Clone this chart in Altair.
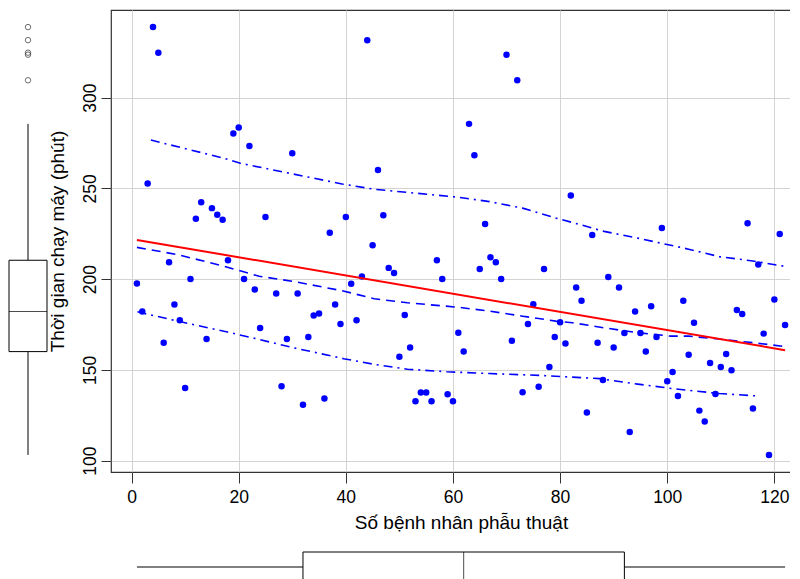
import altair as alt
import pandas as pd

# ---- data ----
patient_no = list(range(1, 26)) + list(range(27, 123))
run_minutes = [
    197.6, 182.2, 252.6, 338.8, 324.7, 165.0, 209.3, 186.0, 177.3, 140.0,
    200.1, 233.2, 242.4, 167.0, 239.1, 235.4, 232.7, 210.4, 280.2, 283.5,
    200.1, 273.3, 194.3, 173.1, 234.2,
    192.1, 141.0, 167.0, 269.3, 192.1, 130.8, 168.1, 180.0, 181.1, 134.3,
    225.6, 186.0, 175.3, 234.2, 197.4, 177.3, 201.4, 331.6, 218.6, 260.1,
    235.2, 206.2, 203.4, 157.3, 180.2, 162.3, 132.8, 137.6, 137.6, 132.8,
    210.4, 200.1, 136.6, 132.8, 170.5, 160.1, 285.5, 268.2, 205.6, 230.3,
    212.0, 209.3, 200.1, 323.6, 166.1, 309.5, 137.7, 175.3, 186.2, 140.7,
    205.6, 151.6, 168.1, 176.3, 164.5, 246.0, 195.4, 188.1, 126.6, 224.3,
    165.0, 144.5, 201.2, 162.3, 195.4, 170.3, 115.8, 182.2, 170.3, 160.1,
    185.1, 168.1, 228.1, 143.8, 148.9, 135.7, 188.1, 158.4, 176.0, 127.6,
    121.6, 153.8, 136.8, 151.6, 158.8, 149.8, 183.0, 180.8, 230.8, 128.8,
    208.0, 170.0, 103.2, 188.8, 224.8, 174.8,
]

smooth_x = [1, 8.6, 17.3, 23.8, 30.1, 39.5, 45.3, 51.5, 61, 66.8, 73, 79.2,
            82.3, 88.2, 94.5, 100.7, 104, 109.7, 116, 122]
smooth_y = [217.5, 213.5, 207.1, 201.6, 198.8, 193.5, 189.2, 187.0, 184.5,
            182.4, 179.6, 176.9, 176.0, 173.2, 170.5, 168.6, 168.6, 167.0,
            165.0, 162.9]

upper_x = [3.6, 17.3, 20.3, 39.3, 45.3, 61, 66.8, 73, 79.2, 82.3, 88.2, 94.5,
           104, 109.7, 116, 122]
upper_y = [276.6, 266.5, 263.8, 252.4, 249.5, 245.1, 242.7, 239.1, 233.6,
           231.2, 226.3, 222.6, 216.5, 212.4, 210.0, 207.0]

lower_x = [1.1, 8.6, 17.9, 23.8, 30.1, 39.6, 45.3, 51.5, 58.8, 66.8, 76.2,
           87.4, 94.5, 101.1, 109.7, 116.7]
lower_y = [182.0, 176.9, 170.9, 166.8, 162.3, 156.2, 153.1, 150.4, 149.0,
           148.0, 147.0, 145.2, 142.2, 139.7, 137.0, 135.7]

x_ticks = [0, 20, 40, 60, 80, 100, 120]
y_ticks = [100, 150, 200, 250, 300]
x_title = "Số bệnh nhân phẫu thuật"
y_title = "Thời gian chạy máy (phút)"

df = pd.DataFrame({"x": patient_no, "y": run_minutes})
df_smooth = pd.DataFrame({"x": smooth_x, "y": smooth_y})
df_upper = pd.DataFrame({"x": upper_x, "y": upper_y})
df_lower = pd.DataFrame({"x": lower_x, "y": lower_y})

FONT = "Liberation Sans"
W, H = 700, 462
xs = alt.Scale(domain=[-3.84, 126.84], nice=False, zero=False)
ys = alt.Scale(domain=[93.8, 348.2], nice=False, zero=False)

x_axis = alt.Axis(values=x_ticks, title=x_title, grid=True, gridColor="#D3D3D3",
                  gridWidth=1, domain=False, tickSize=11, tickColor="#333333",
                  labelPadding=5, labelFontSize=17.5, titleFontSize=19,
                  titlePadding=8, labelFont=FONT, titleFont=FONT,
                  labelColor="black", titleColor="black", titleFontWeight="normal")
y_axis = alt.Axis(values=y_ticks, title=y_title, grid=True, gridColor="#D3D3D3",
                  gridWidth=1, domain=False, tickSize=10, tickColor="#333333",
                  labelPadding=1.5, labelAngle=-90, labelFontSize=17.5,
                  titleFontSize=19, titlePadding=14.5, labelFont=FONT,
                  titleFont=FONT, labelColor="black", titleColor="black",
                  titleFontWeight="normal")

X = alt.X("x:Q", scale=xs, axis=x_axis)
Y = alt.Y("y:Q", scale=ys, axis=y_axis)

points = alt.Chart(df).mark_circle(size=42, color="#0000FF", opacity=1).encode(x=X, y=Y)
reg = alt.Chart(df).transform_regression("x", "y", extent=[1, 122]).mark_line(
    color="#FF0000", strokeWidth=2).encode(x=X, y=Y)
smooth = alt.Chart(df_smooth).mark_line(color="#0000FF", strokeWidth=1.6,
                                         strokeDash=[9, 6]).encode(x=X, y=Y)
upper = alt.Chart(df_upper).mark_line(color="#0000FF", strokeWidth=1.6,
                                       strokeDash=[9, 5, 2, 5]).encode(x=X, y=Y)
lower = alt.Chart(df_lower).mark_line(color="#0000FF", strokeWidth=1.6,
                                       strokeDash=[9, 5, 2, 5]).encode(x=X, y=Y)

main = alt.layer(points, upper, lower, smooth, reg).properties(width=W, height=H)

box_style = dict(
    color="white",
    box=alt.MarkConfig(stroke="black", strokeWidth=1, fill="white"),
    median=alt.MarkConfig(color="black", strokeWidth=1),
    rule=alt.MarkConfig(color="black", strokeWidth=1),
    outliers=alt.MarkConfig(color="black", filled=False, size=30, strokeWidth=0.8),
    ticks=False,
)

left_box = alt.Chart(df).mark_boxplot(extent=1.8, size=38, **box_style).encode(
    y=alt.Y("y:Q", scale=ys, axis=None)
).properties(width=38, height=H, view=alt.ViewBackground(stroke="transparent"))

bottom_box = alt.Chart(df).mark_boxplot(extent="min-max", size=30, **box_style).encode(
    x=alt.X("x:Q", scale=xs, axis=None)
).properties(width=W, height=30, view=alt.ViewBackground(stroke="transparent"))

chart = alt.hconcat(
    left_box,
    alt.vconcat(main, bottom_box, spacing=16),
    spacing=-2,
).properties(
    padding={"left": -1, "top": 1, "right": -22, "bottom": 0},
    background="white",
).configure_view(stroke="#333333", strokeWidth=1.2)

chart.save("out.html", embed_options={"renderer": "svg", "actions": False})
